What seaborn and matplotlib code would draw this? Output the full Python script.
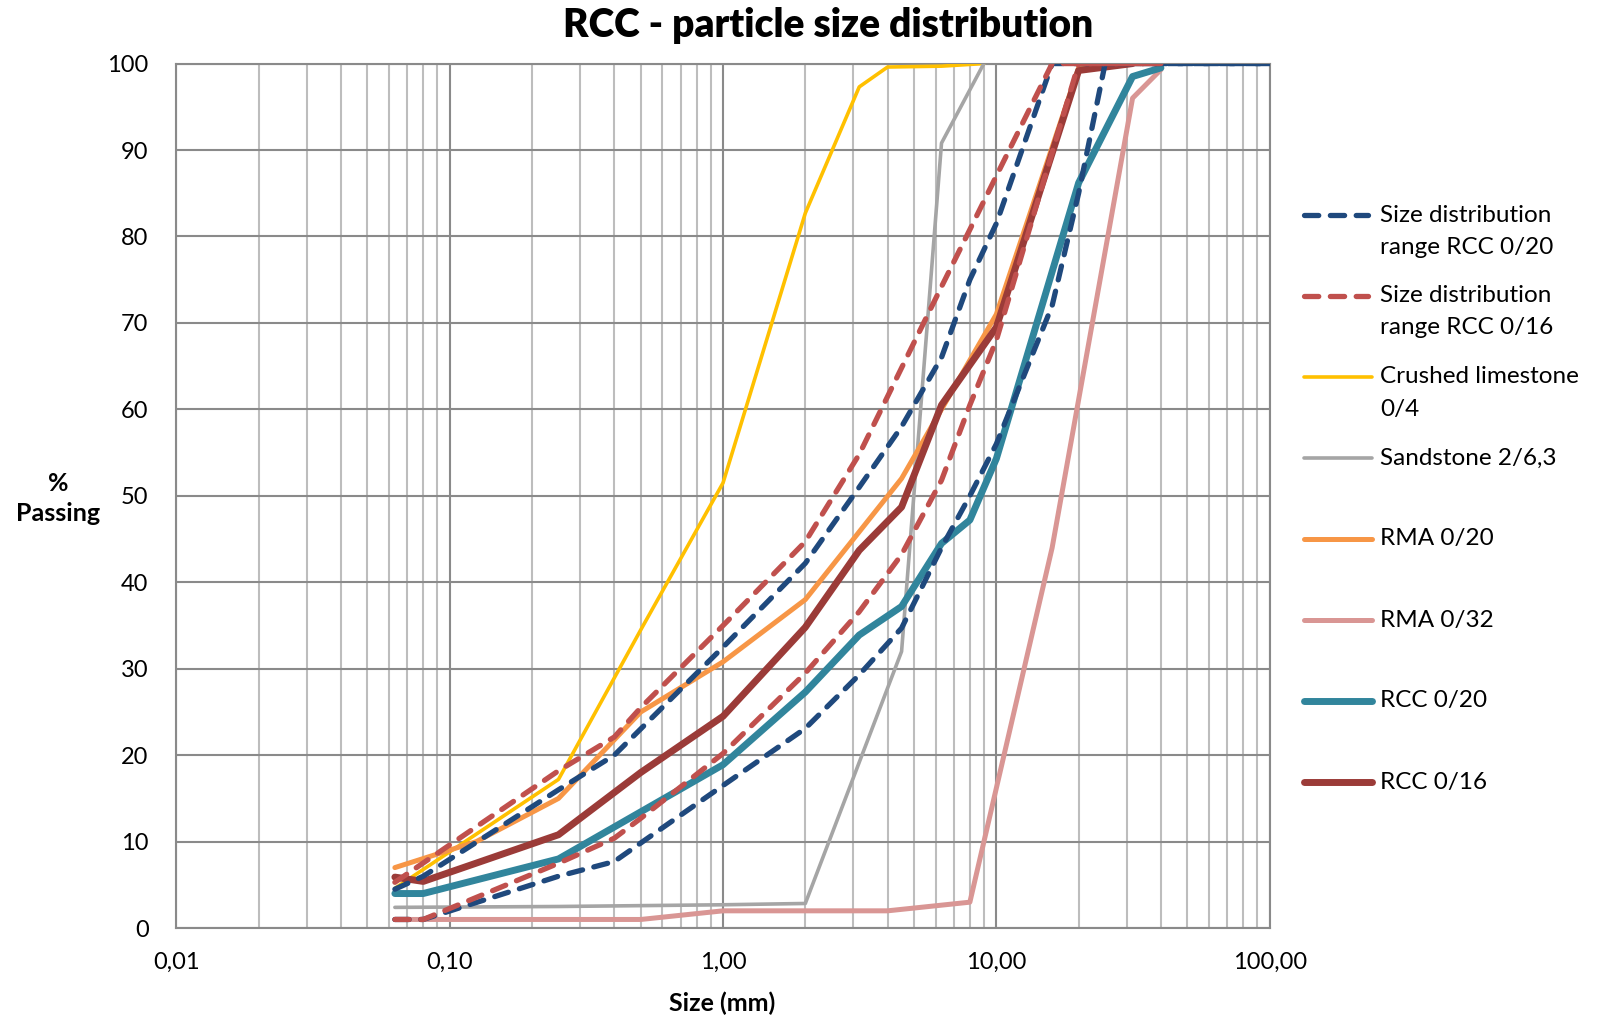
import numpy as np
import matplotlib
matplotlib.use("Agg")
import matplotlib.pyplot as plt
from matplotlib.lines import Line2D
from matplotlib.ticker import FixedLocator, FixedFormatter, LogLocator, NullFormatter
import seaborn as sns

# sieve size (mm) / % passing
range020_up_x = [0.063, 0.08, 0.25, 0.4, 1, 2, 3.15, 4.5, 6.3, 8, 10, 16, 100]
range020_up_y = [4.5, 6, 16, 20, 32.5, 42.2, 51, 58, 66, 75, 81.5, 100, 100]
range020_lo_x = [0.063, 0.08, 0.25, 0.4, 1, 2, 3.15, 4.5, 6.3, 8, 10, 16, 20, 25, 100]
range020_lo_y = [1, 1, 6, 7.7, 16.5, 23.1, 29.3, 34.7, 44, 50, 56, 72, 85, 100, 100]

range016_up_x = [0.063, 0.25, 0.4, 0.5, 1, 2, 3.15, 4.5, 6.3, 8, 10, 16, 40]
range016_up_y = [5.3, 18.2, 22.1, 25.5, 35, 44.7, 54.8, 64.8, 74.2, 80.8, 87, 100, 100]
range016_lo_x = [0.063, 0.08, 0.25, 0.4, 0.5, 1, 2, 3.15, 4.5, 6.3, 8, 10, 20, 40]
range016_lo_y = [1, 1, 7.5, 10.4, 12.7, 20.2, 29.5, 36.6, 43.2, 51.8, 60.5, 68, 100, 100]

limestone_x = [0.063, 0.25, 0.5, 1, 2, 3.15, 4, 6.3, 9]
limestone_y = [4.6, 17.2, 34.5, 51.5, 82.7, 97.3, 99.6, 99.7, 100]

sandstone_x = [0.063, 0.25, 1, 2, 4.5, 6.3, 9]
sandstone_y = [2.4, 2.5, 2.7, 2.85, 32, 90.8, 100]

rma020_x = [0.063, 0.125, 0.25, 0.5, 1, 2, 4.5, 10, 20, 31.5]
rma020_y = [7, 10, 15, 25, 30.8, 38, 52, 71, 99.5, 100]

rma032_x = [0.063, 0.5, 1, 4, 8, 16, 31.5, 40]
rma032_y = [1, 1, 2, 2, 3, 44, 96, 99.3]

rcc020_x = [0.063, 0.08, 0.25, 1, 2, 3.15, 4.5, 6.3, 8, 10, 20, 31.5, 40]
rcc020_y = [4, 4, 8, 18.9, 27.3, 33.9, 37.2, 44.5, 47.2, 54.3, 86.2, 98.5, 99.5]

rcc016_x = [0.063, 0.08, 0.25, 0.5, 1, 2, 3.15, 4.5, 6.3, 10, 20, 31.5]
rcc016_y = [5.9, 5.4, 10.8, 18, 24.5, 34.8, 43.7, 48.7, 60.5, 69.5, 99.2, 100]

x_ticks = [0.01, 0.1, 1, 10, 100]
x_tick_labels = ["0,01", "0,10", "1,00", "10,00", "100,00"]
y_ticks = list(range(0, 101, 10))

labels = ["Size distribution\nrange RCC 0/20", "Size distribution\nrange RCC 0/16",
          "Crushed limestone\n0/4", "Sandstone 2/6,3", "RMA 0/20", "RMA 0/32",
          "RCC 0/20", "RCC 0/16"]
colors = ["#1F497D", "#C0504D", "#FFC000", "#A5A5A5", "#F79646", "#D99694",
          "#31859C", "#9B3B38"]
widths = [3.8, 3.8, 2.6, 2.6, 3.6, 3.6, 5.0, 5.0]
dashed = [True, True, False, False, False, False, False, False]

sns.set_style("white")
plt.rcParams["font.family"] = ["Lato", "DejaVu Sans"]
plt.rcParams["text.color"] = "black"

fig = plt.figure(figsize=(16.08, 10.17), dpi=100)
ax = fig.add_axes([0.1097, 0.0874, 0.6799, 0.8501])

DASH = (0, (2.7, 2.2))


def draw(x, y, i, z):
    sns.lineplot(x=x, y=y, ax=ax, color=colors[i], linewidth=widths[i],
                 linestyle=DASH if dashed[i] else "-", errorbar=None,
                 solid_capstyle="round", dash_capstyle="round",
                 solid_joinstyle="round", dash_joinstyle="round", zorder=z)


draw(limestone_x, limestone_y, 2, 3)
draw(sandstone_x, sandstone_y, 3, 3)
draw(rma020_x, rma020_y, 4, 4)
draw(rma032_x, rma032_y, 5, 4)
draw(rcc020_x, rcc020_y, 6, 5)
draw(rcc016_x, rcc016_y, 7, 6)
draw(range020_up_x, range020_up_y, 0, 7)
draw(range020_lo_x, range020_lo_y, 0, 7)
draw(range016_up_x, range016_up_y, 1, 8)
draw(range016_lo_x, range016_lo_y, 1, 8)

ax.set_xscale("log")
ax.set_xlim(0.01, 100)
ax.set_ylim(0, 100)
ax.xaxis.set_major_locator(FixedLocator(x_ticks))
ax.xaxis.set_major_formatter(FixedFormatter(x_tick_labels))
ax.xaxis.set_minor_locator(LogLocator(base=10, subs=np.arange(2, 10)))
ax.xaxis.set_minor_formatter(NullFormatter())
ax.set_yticks(y_ticks)
ax.set_xlabel("")
ax.set_ylabel("")

ax.set_axisbelow(True)
ax.grid(which="major", color="#8A8A8A", linewidth=1.5)
ax.grid(which="minor", axis="x", color="#BDBDBD", linewidth=1.5)
for s in ax.spines.values():
    s.set_color("#8A8A8A")
    s.set_linewidth(1.5)
ax.tick_params(which="minor", length=0)
ax.tick_params(axis="x", which="major", length=5, width=1.5, color="#8A8A8A",
               pad=12, labelsize=17, labelcolor="black")
ax.tick_params(axis="y", length=8, width=1.5, color="#8A8A8A", pad=12, labelsize=17,
               labelcolor="black")

fig.text(0.515, 0.975, "RCC - particle size distribution", ha="center", va="center",
         fontsize=28, fontweight="heavy")
fig.text(0.036, 0.510, "%\nPassing", ha="center", va="center", fontsize=18,
         fontweight="bold", linespacing=1.35, multialignment="center")
fig.text(0.449, 0.0138, "Size (mm)", ha="center", va="center", fontsize=18,
         fontweight="bold")

# legend, drawn by hand to keep the even row pitch
W, H = 1608, 1017
for i, lab in enumerate(labels):
    yp = 215 + 81 * i
    yf = 1 - yp / H
    x0 = 1304 / W
    x1 = 1368 / W if dashed[i] else 1372 / W
    fig.add_artist(Line2D([x0, x1], [yf, yf], transform=fig.transFigure,
                          color=colors[i], linewidth=widths[i],
                          linestyle=DASH if dashed[i] else "-",
                          solid_capstyle="round", dash_capstyle="round"))
    for k, part in enumerate(lab.split("\n")):
        fig.text(1380 / W, 1 - (yp + 32 * k) / H, part, ha="left", va="center",
                 fontsize=17.5)

fig.savefig("out.png", dpi=100)
